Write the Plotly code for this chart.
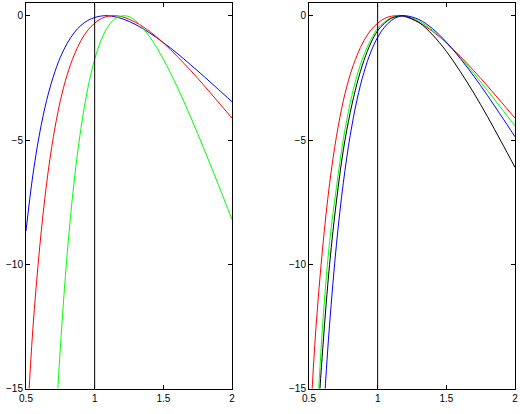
import plotly.graph_objects as go

# ---- data ----
left_blue_x = [0.5, 0.55, 0.6, 0.65, 0.7, 0.75, 0.8, 0.85, 0.9, 0.95, 1.0, 1.05, 1.1, 1.2, 1.3, 1.4, 1.5, 1.6, 1.7, 1.8, 1.9, 2.0]
left_blue_y = [-8.66, -6.41, -4.71, -3.41, -2.43, -1.67, -1.11, -0.69, -0.39, -0.19, -0.07, -0.01, 0.0, -0.12, -0.36, -0.69, -1.08, -1.51, -1.98, -2.46, -2.96, -3.46]

red_x = [0.5, 0.52, 0.55, 0.6, 0.65, 0.7, 0.75, 0.8, 0.85, 0.9, 0.95, 1.0, 1.05, 1.1, 1.15, 1.2, 1.3, 1.4, 1.5, 1.6, 1.7, 1.8, 1.9, 2.0]
red_y = [-17.6, -15.3, -12.6, -9.3, -6.75, -4.85, -3.42, -2.37, -1.59, -1.0, -0.58, -0.30, -0.11, -0.02, 0.0, -0.04, -0.27, -0.63, -1.09, -1.63, -2.21, -2.83, -3.47, -4.12]

left_green_x = [0.7, 0.72, 0.75, 0.8, 0.85, 0.9, 0.95, 1.0, 1.05, 1.1, 1.15, 1.21, 1.25, 1.3, 1.4, 1.5, 1.6, 1.7, 1.8, 1.9, 2.0]
left_green_y = [-18.4, -16.2, -13.37, -9.57, -6.69, -4.53, -2.92, -1.75, -0.94, -0.41, -0.11, 0.0, -0.04, -0.21, -0.84, -1.75, -2.85, -4.09, -5.41, -6.79, -8.2]

right_green_x = [0.55, 0.6, 0.65, 0.7, 0.75, 0.8, 0.85, 0.9, 0.95, 1.0, 1.05, 1.1, 1.17, 1.2, 1.3, 1.4, 1.5, 1.6, 1.7, 1.8, 1.9, 2.0]
right_green_y = [-17.1, -12.4, -9.1, -6.9, -4.97, -3.51, -2.40, -1.57, -0.96, -0.50, -0.25, -0.08, 0.0, -0.01, -0.21, -0.59, -1.09, -1.67, -2.32, -3.01, -3.72, -4.44]

right_black_x = [0.55, 0.6, 0.65, 0.7, 0.75, 0.8, 0.85, 0.9, 0.95, 1.0, 1.05, 1.1, 1.17, 1.2, 1.3, 1.4, 1.5, 1.6, 1.7, 1.8, 1.9, 2.0]
right_black_y = [-17.5, -13.4, -10.0, -7.45, -5.4, -3.9, -2.72, -1.8, -1.1, -0.6, -0.3, -0.1, 0.0, -0.02, -0.27, -0.77, -1.43, -2.23, -3.11, -4.06, -5.07, -6.1]

right_blue_x = [0.6, 0.62, 0.65, 0.7, 0.75, 0.8, 0.85, 0.9, 0.95, 1.0, 1.05, 1.1, 1.15, 1.2, 1.3, 1.4, 1.5, 1.6, 1.7, 1.8, 1.9, 2.0]
right_blue_y = [-16.6, -14.8, -12.41, -9.19, -6.72, -4.82, -3.37, -2.28, -1.46, -0.87, -0.46, -0.19, -0.04, 0.0, -0.15, -0.52, -1.06, -1.71, -2.43, -3.21, -4.03, -4.87]

vline_x = 1.0
x_ticks = [0.5, 1, 1.5, 2]
x_tick_text = ["0.5", "1", "1.5", "2"]
y_ticks = [-15, -10, -5, 0]
x_range = [0.5, 2]
y_range = [-15, 0.5]

fig = go.Figure()

def add(x, y, color, xa, ya):
    fig.add_trace(go.Scatter(x=x, y=y, mode="lines", line=dict(color=color, width=1, shape="spline"),
                             xaxis=xa, yaxis=ya, showlegend=False, hoverinfo="skip"))

add(left_blue_x, left_blue_y, "#0000FF", "x", "y")
add(red_x, red_y, "#FF0000", "x", "y")
add(left_green_x, left_green_y, "#00FF00", "x", "y")

add(red_x, red_y, "#FF0000", "x2", "y2")
add(right_green_x, right_green_y, "#00FF00", "x2", "y2")
add(right_black_x, right_black_y, "#000000", "x2", "y2")
add(right_blue_x, right_blue_y, "#0000FF", "x2", "y2")

for xr, yr in (("x", "y"), ("x2", "y2")):
    fig.add_shape(type="line", xref=xr, yref=yr, x0=vline_x, x1=vline_x, y0=y_range[0], y1=y_range[1],
                  line=dict(color="black", width=1), layer="above")

W, H = 520, 414
xdom1 = [26 / W, 232 / W]
xdom2 = [309 / W, 515 / W]
ydom = [1 - 388.6 / H, 1 - 3.3 / H]

axis_common = dict(showline=True, linecolor="black", linewidth=1, mirror="ticks", ticks="inside",
                   ticklen=4, tickcolor="black", showgrid=False, zeroline=False, automargin=False,
                   tickfont=dict(family="Liberation Sans, Arial, sans-serif", size=10, color="black"))

fig.update_layout(
    width=W, height=H,
    margin=dict(l=0, r=0, t=0, b=0, autoexpand=False),
    paper_bgcolor="white", plot_bgcolor="white",
    xaxis=dict(domain=xdom1, range=x_range, tickvals=x_ticks, ticktext=x_tick_text, anchor="y", **axis_common),
    yaxis=dict(domain=ydom, range=y_range, tickvals=y_ticks, anchor="x", **axis_common),
    xaxis2=dict(domain=xdom2, range=x_range, tickvals=x_ticks, ticktext=x_tick_text, anchor="y2", **axis_common),
    yaxis2=dict(domain=ydom, range=y_range, tickvals=y_ticks, anchor="x2", **axis_common),
)

fig.write_html("out.html")
